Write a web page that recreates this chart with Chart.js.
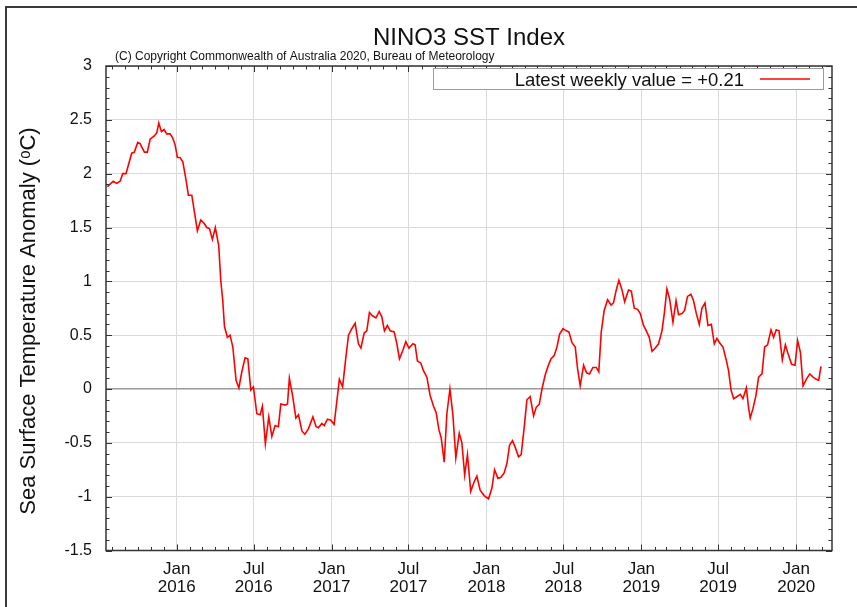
<!DOCTYPE html>
<html>
<head>
<meta charset="utf-8">
<title>NINO3 SST Index</title>
<script src="https://cdn.jsdelivr.net/npm/chart.js@4.4.1/dist/chart.umd.min.js"></script>
<style>
  html, body { margin: 0; padding: 0; background: #fff; }
  #chart { display: block; }
</style>
</head>
<body>
<canvas id="chart" width="857" height="607"></canvas>
<script>
'use strict';

// ── Datos ──────────────────────────────────────────────────────────────
// fecha de cada valor semanal en años decimales
const weekYears = [
  2015.552, 2015.590, 2015.612, 2015.634, 2015.651, 2015.672, 2015.709, 2015.726, 2015.748, 2015.763,
  2015.791, 2015.810, 2015.828, 2015.855, 2015.871, 2015.884, 2015.901, 2015.918, 2015.935, 2015.957,
  2015.974, 2015.989, 2016.004, 2016.021, 2016.039, 2016.060, 2016.075, 2016.097, 2016.133, 2016.155,
  2016.176, 2016.194, 2016.211, 2016.230, 2016.249, 2016.271, 2016.284, 2016.297, 2016.308, 2016.327,
  2016.344, 2016.362, 2016.383, 2016.401, 2016.420, 2016.441, 2016.459, 2016.478, 2016.495, 2016.517,
  2016.538, 2016.553, 2016.572, 2016.594, 2016.614, 2016.635, 2016.656, 2016.672, 2016.700, 2016.715,
  2016.727, 2016.749, 2016.769, 2016.786, 2016.808, 2016.827, 2016.850, 2016.879, 2016.900, 2016.915,
  2016.937, 2016.952, 2016.973, 2016.995, 2017.016, 2017.050, 2017.071, 2017.090, 2017.109, 2017.130,
  2017.152, 2017.173, 2017.189, 2017.210, 2017.227, 2017.244, 2017.264, 2017.286, 2017.307, 2017.324,
  2017.341, 2017.360, 2017.378, 2017.404, 2017.421, 2017.438, 2017.460, 2017.479, 2017.499, 2017.525,
  2017.539, 2017.554, 2017.576, 2017.593, 2017.615, 2017.636, 2017.658, 2017.675, 2017.693, 2017.707,
  2017.727, 2017.744, 2017.764, 2017.783, 2017.802, 2017.824, 2017.841, 2017.859, 2017.877, 2017.898,
  2017.921, 2017.938, 2017.959, 2017.985, 2018.013, 2018.035, 2018.052, 2018.074, 2018.093, 2018.114,
  2018.132, 2018.149, 2018.168, 2018.185, 2018.207, 2018.224, 2018.244, 2018.261, 2018.282, 2018.304,
  2018.321, 2018.341, 2018.358, 2018.379, 2018.397, 2018.416, 2018.437, 2018.455, 2018.472, 2018.494,
  2018.515, 2018.532, 2018.552, 2018.573, 2018.588, 2018.605, 2018.627, 2018.646, 2018.665, 2018.687,
  2018.709, 2018.725, 2018.741, 2018.760, 2018.782, 2018.804, 2018.820, 2018.838, 2018.855, 2018.875,
  2018.892, 2018.917, 2018.935, 2018.954, 2018.976, 2018.993, 2019.014, 2019.032, 2019.051, 2019.069,
  2019.090, 2019.111, 2019.133, 2019.148, 2019.165, 2019.182, 2019.204, 2019.224, 2019.240, 2019.262,
  2019.279, 2019.298, 2019.320, 2019.337, 2019.355, 2019.374, 2019.391, 2019.411, 2019.430, 2019.452,
  2019.471, 2019.488, 2019.505, 2019.527, 2019.548, 2019.563, 2019.579, 2019.596, 2019.618, 2019.639,
  2019.656, 2019.678, 2019.692, 2019.703, 2019.721, 2019.740, 2019.757, 2019.779, 2019.796, 2019.815,
  2019.837, 2019.854, 2019.871, 2019.889, 2019.910, 2019.930, 2019.951, 2019.970, 2019.992, 2020.009,
  2020.027, 2020.044, 2020.065, 2020.087, 2020.109, 2020.130, 2020.145, 2020.160,
];

// anomalia SST NINO3 (°C)
const anomaly = [
  1.88, 1.93, 1.91, 1.93, 2.00, 2.00, 2.19, 2.20, 2.29, 2.28,
  2.20, 2.20, 2.32, 2.35, 2.38, 2.47, 2.39, 2.41, 2.37, 2.37,
  2.33, 2.27, 2.15, 2.15, 2.11, 1.94, 1.80, 1.80, 1.47, 1.57,
  1.54, 1.50, 1.49, 1.39, 1.50, 1.33, 1.01, 0.82, 0.58, 0.48,
  0.50, 0.39, 0.08, 0.01, 0.16, 0.29, 0.28, -0.01, 0.02, -0.23,
  -0.24, -0.16, -0.51, -0.26, -0.44, -0.34, -0.35, -0.14, -0.15, -0.14,
  0.10, -0.07, -0.27, -0.24, -0.39, -0.42, -0.37, -0.26, -0.35, -0.36,
  -0.32, -0.34, -0.28, -0.29, -0.33, 0.09, 0.02, 0.27, 0.50, 0.56,
  0.61, 0.42, 0.38, 0.52, 0.54, 0.71, 0.68, 0.66, 0.72, 0.67,
  0.54, 0.59, 0.54, 0.53, 0.42, 0.28, 0.36, 0.44, 0.38, 0.42,
  0.41, 0.26, 0.24, 0.17, 0.11, -0.06, -0.16, -0.22, -0.38, -0.45,
  -0.68, -0.23, 0.00, -0.24, -0.64, -0.41, -0.50, -0.80, -0.61, -0.95,
  -0.86, -0.81, -0.94, -0.99, -1.02, -0.92, -0.75, -0.83, -0.82, -0.78,
  -0.69, -0.52, -0.48, -0.54, -0.63, -0.61, -0.35, -0.10, -0.07, -0.25,
  -0.17, -0.14, 0.00, 0.13, 0.21, 0.28, 0.31, 0.39, 0.51, 0.56,
  0.54, 0.53, 0.43, 0.39, 0.19, 0.03, 0.22, 0.15, 0.14, 0.20,
  0.20, 0.16, 0.53, 0.73, 0.83, 0.78, 0.80, 0.92, 1.01, 0.92,
  0.81, 0.92, 0.91, 0.75, 0.74, 0.70, 0.59, 0.54, 0.48, 0.35,
  0.38, 0.42, 0.54, 0.70, 0.93, 0.84, 0.62, 0.82, 0.69, 0.70,
  0.73, 0.86, 0.88, 0.82, 0.70, 0.60, 0.75, 0.80, 0.59, 0.60,
  0.42, 0.47, 0.43, 0.39, 0.27, 0.17, -0.01, -0.09, -0.07, -0.05,
  -0.09, 0.01, -0.17, -0.27, -0.18, -0.06, 0.11, 0.14, 0.39, 0.41,
  0.55, 0.48, 0.55, 0.54, 0.27, 0.41, 0.31, 0.23, 0.22, 0.45,
  0.34, 0.03, 0.09, 0.14, 0.11, 0.09, 0.08, 0.21,
];

// ticks del eje X
const tickMonths = ['2016-01', '2016-07', '2017-01', '2017-07', '2018-01', '2018-07', '2019-01', '2019-07', '2020-01'];
const tickLabels = [
  ['Jan', '2016'], ['Jul', '2016'], ['Jan', '2017'], ['Jul', '2017'], ['Jan', '2018'],
  ['Jul', '2018'], ['Jan', '2019'], ['Jul', '2019'], ['Jan', '2020'],
];

const titleText     = 'NINO3 SST Index';
const copyrightText = '(C) Copyright Commonwealth of Australia 2020, Bureau of Meteorology';
const latestValue   = anomaly[anomaly.length - 1];
const legendText    = 'Latest weekly value = ' + (latestValue >= 0 ? '+' : '') + latestValue.toFixed(2);
const yTitleText    = 'Sea Surface Temperature Anomaly (\u1D52C)';

if (weekYears.length !== anomaly.length) {
  throw new Error(`weekYears (${weekYears.length}) y anomaly (${anomaly.length}) no coinciden`);
}

// ── Helpers ────────────────────────────────────────────────────────────
function decYear(y, m) {
  const t0 = Date.UTC(y, 0, 1);
  return y + (Date.UTC(y, m - 1, 1) - t0) / (Date.UTC(y + 1, 0, 1) - t0);
}
const tickValues = tickMonths.map(s => decYear(+s.slice(0, 4), +s.slice(5, 7)));

const FONT = "'Liberation Sans', Arial, Helvetica, sans-serif";
const C = {
  red:   '#ff0000',
  grid:  '#dadada',
  zero:  '#9a9a9a',
  frame: '#333333',
  text:  '#111111',
};

// ── Decoracion estilo gnuplot (marco, ticks internos, textos) ──────────
const gnuplotDeco = {
  id: 'gnuplotDeco',
  beforeDraw(chart) {
    const ctx = chart.ctx;
    ctx.save();
    ctx.fillStyle = '#fff';
    ctx.fillRect(0, 0, chart.width, chart.height);
    // borde exterior de la imagen
    ctx.fillStyle = '#3a3a3a';
    ctx.fillRect(5, 6, chart.width - 5, 2);
    ctx.fillRect(5, 6, 2, chart.height - 6);
    ctx.restore();
  },
  afterDraw(chart) {
    const { ctx, chartArea: a, scales } = chart;
    const xs = scales.x, ys = scales.y;
    ctx.save();

    // ticks internos (menores y mayores) en los cuatro lados
    ctx.strokeStyle = C.frame;
    ctx.lineWidth = 1;
    ctx.beginPath();
    for (let y = 2015; y <= 2020; y++) {
      for (let m = 1; m <= 12; m++) {
        const v = decYear(y, m);
        if (v <= xs.min || v >= xs.max) continue;
        const px = Math.round(xs.getPixelForValue(v)) + 0.5;
        const len = (m === 1 || m === 7) ? 6 : 3.5;
        ctx.moveTo(px, a.bottom); ctx.lineTo(px, a.bottom - len);
        ctx.moveTo(px, a.top);    ctx.lineTo(px, a.top + len);
      }
    }
    for (let i = -15; i <= 30; i++) {
      const v = i / 10;
      const py = Math.round(ys.getPixelForValue(v)) + 0.5;
      const len = (i % 5 === 0) ? 6 : 3.5;
      ctx.moveTo(a.left, py);  ctx.lineTo(a.left + len, py);
      ctx.moveTo(a.right, py); ctx.lineTo(a.right - len, py);
    }
    ctx.stroke();

    // marco del area de graficos
    ctx.lineWidth = 1.5;
    ctx.strokeRect(a.left, a.top, a.right - a.left, a.bottom - a.top);

    // titulo
    ctx.fillStyle = C.text;
    ctx.textAlign = 'center';
    ctx.textBaseline = 'alphabetic';
    ctx.font = `24px ${FONT}`;
    ctx.fillText(titleText, (a.left + a.right) / 2, 45);

    // copyright
    ctx.textAlign = 'left';
    ctx.font = `12px ${FONT}`;
    ctx.fillText(copyrightText, a.left + 9, 60);

    // leyenda
    const lx0 = 433, lx1 = 823, ly0 = 68, ly1 = 89;
    ctx.fillStyle = '#fff';
    ctx.fillRect(lx0, ly0, lx1 - lx0, ly1 - ly0);
    ctx.strokeStyle = '#9c9c9c';
    ctx.lineWidth = 1;
    ctx.strokeRect(lx0 + 0.5, ly0 + 0.5, lx1 - lx0, ly1 - ly0);
    ctx.fillStyle = C.text;
    ctx.font = `18.5px ${FONT}`;
    ctx.textAlign = 'right';
    ctx.fillText(legendText, 744, 86);
    ctx.strokeStyle = C.red;
    ctx.lineWidth = 1.5;
    ctx.beginPath();
    ctx.moveTo(760, 79); ctx.lineTo(810, 79);
    ctx.stroke();

    // titulo eje Y
    ctx.save();
    ctx.translate(29, 321);
    ctx.rotate(-Math.PI / 2);
    ctx.textAlign = 'center';
    ctx.textBaseline = 'middle';
    ctx.fillStyle = C.text;
    ctx.font = `22px ${FONT}`;
    ctx.fillText(yTitleText, 0, 0);
    ctx.restore();

    ctx.restore();
  },
};

// ── Grafico ────────────────────────────────────────────────────────────
new Chart(document.getElementById('chart'), {
  type: 'line',
  data: {
    datasets: [{
      label: legendText,
      data: weekYears.map((x, i) => ({ x, y: anomaly[i] })),
      borderColor: C.red,
      borderWidth: 1.6,
      pointRadius: 0,
      tension: 0,
      fill: false,
    }],
  },
  options: {
    responsive: false,
    animation: false,
    devicePixelRatio: 1,
    layout: { padding: { left: 0, top: 66, right: 25, bottom: 0 } },
    plugins: {
      legend: { display: false },
      tooltip: { enabled: false },
      title: { display: false },
    },
    scales: {
      x: {
        type: 'linear',
        min: 2015.543,
        max: 2020.231,
        afterBuildTicks: scale => { scale.ticks = tickValues.map(v => ({ value: v })); },
        afterFit: scale => { scale.height = 56.5; },
        ticks: {
          autoSkip: false,
          maxRotation: 0,
          padding: 9,
          color: C.text,
          font: { family: FONT, size: 17, lineHeight: 1.1 },
          callback: (val, idx) => tickLabels[idx],
        },
        grid: { color: C.grid, lineWidth: 1, drawTicks: false },
        border: { display: false },
      },
      y: {
        min: -1.5,
        max: 3,
        ticks: {
          stepSize: 0.5,
          padding: 14,
          color: C.text,
          font: { family: FONT, size: 16 },
          callback: v => String(Number(v.toFixed(1))),
        },
        afterFit: scale => { scale.width = 106; },
        grid: {
          color: c => (c.tick && c.tick.value === 0) ? C.zero : C.grid,
          lineWidth: c => (c.tick && c.tick.value === 0) ? 1.5 : 1,
          drawTicks: false,
        },
        border: { display: false },
      },
    },
  },
  plugins: [gnuplotDeco],
});
</script>
</body>
</html>
